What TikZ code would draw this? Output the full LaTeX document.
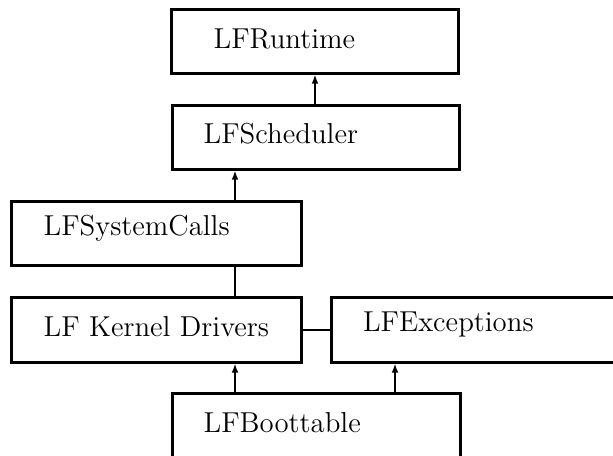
\documentclass[tikz,border=0pt]{standalone}
\usetikzlibrary{arrows.meta}
\begin{document}
\begin{tikzpicture}[
  x=0.5pt, y=-0.5pt,
  blk/.style={draw, line width=1.3pt, anchor=north west, inner sep=0pt},
  lbl/.style={anchor=base west, inner sep=0pt, font=\Large},
  link/.style={line width=0.85pt},
  arr/.style={link, -{Latex[length=4.5pt,width=3.4pt]}}
]
\useasboundingbox (0,0) rectangle (613,455);
\begin{scope}
\clip (0,0) rectangle (613,455);

% module boxes
\node[blk, minimum width=143.5pt, minimum height=32pt]    (rt)    at (170,8)   {};
\node[blk, minimum width=143.5pt, minimum height=32pt]    (sched) at (171,104) {};
\node[blk, minimum width=145pt,   minimum height=32pt]    (sys)   at (10,200)  {};
\node[blk, minimum width=145pt,   minimum height=32.5pt]  (kern)  at (10,296)  {};
\node[blk, minimum width=150pt,   minimum height=32.5pt]  (exc)   at (330,296) {};
\node[blk, line width=1.6pt, minimum width=144pt, minimum height=40pt] (boot) at (171,392) {};

% box captions
\node[lbl] (rttxt)    at (213.3,48.5)  {LFRuntime};
\node[lbl] (schedtxt) at (203.3,143.3) {LFScheduler};
\node[lbl] (systxt)   at (43.3,235.3)  {LFSystemCalls};
\node[lbl] (kerntxt)  at (43.3,336.7)  {LF Kernel Drivers};
\node[lbl] (exctxt)   at (362.7,331.7) {LFExceptions};
\node[lbl] (boottxt)  at (203.3,432.7) {LFBoottable};

% connector columns
\coordinate (ca) at (315,0);
\coordinate (cb) at (235,0);
\coordinate (cc) at (395,0);

% connectors
\draw[arr]  (sched.north -| ca) -- (rt.south -| ca);
\draw[arr]  (sys.north -| cb)   -- (sched.south -| cb);
\draw[link] (sys.south -| cb)   -- (kern.north -| cb);
\draw[link] (kern.east)         -- (exc.west);
\draw[arr]  (boot.north -| cb)  -- (kern.south -| cb);
\draw[arr]  (boot.north -| cc)  -- (exc.south -| cc);
\end{scope}
\end{tikzpicture}
\end{document}
